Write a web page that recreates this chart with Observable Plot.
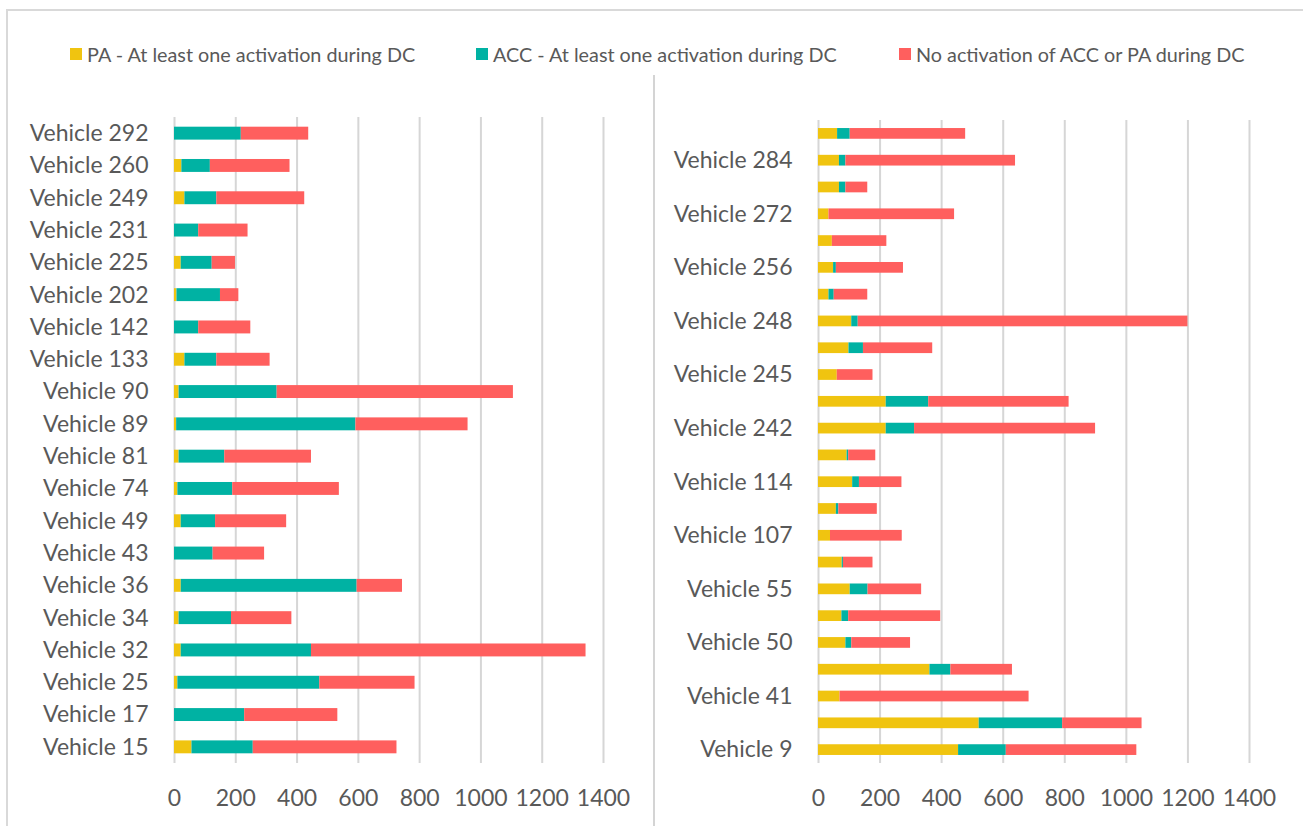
<!DOCTYPE html>
<html>
<head>
<meta charset="utf-8">
<script src="https://cdn.jsdelivr.net/npm/d3@7"></script>
<script src="https://cdn.jsdelivr.net/npm/@observablehq/plot@0.6"></script>
<style>
  html, body { margin: 0; padding: 0; background: #fff; }
  #wrap { position: relative; width: 1303px; height: 826px; overflow: hidden; font-family: Lato, "Open Sans", sans-serif; color: #595959; }
  #frame { position: absolute; left: 6px; top: 9px; right: -4px; bottom: -4px; border-top: 2px solid #d9d9d9; border-left: 2px solid #d9d9d9; }
  #divider { position: absolute; left: 653px; top: 75px; width: 2px; height: 760px; background: #d4d4d4; }
  .legend { position: absolute; top: 42px; height: 24px; display: flex; align-items: center; font-size: 19.8px; white-space: nowrap; }
  .legend .sw { width: 12px; height: 12px; margin-right: 5px; }
  #left, #right { position: absolute; top: 0; }
  #left { left: 0; }
  #right { left: 654px; }
</style>
</head>
<body>
<div id="wrap">
  <div id="frame"></div>
  <div id="divider"></div>
  <div id="legend"></div>
  <div id="left"></div>
  <div id="right"></div>
</div>
<script>
// ---- data ----
const seriesNames = ["PA - At least one activation during DC", "ACC - At least one activation during DC", "No activation of ACC or PA during DC"];
const seriesColors = ["#f0c410", "#00b2a3", "#ff5f5e"];

// left panel, top to bottom
const leftVehicles = ["Vehicle 292","Vehicle 260","Vehicle 249","Vehicle 231","Vehicle 225","Vehicle 202","Vehicle 142","Vehicle 133","Vehicle 90","Vehicle 89","Vehicle 81","Vehicle 74","Vehicle 49","Vehicle 43","Vehicle 36","Vehicle 34","Vehicle 32","Vehicle 25","Vehicle 17","Vehicle 15"];
const leftPA   = [0, 24, 34, 0, 22, 8, 0, 34, 15, 7, 15, 11, 22, 0, 22, 15, 22, 11, 0, 57];
const leftACC  = [218, 93, 104, 79, 101, 142, 79, 104, 320, 585, 149, 179, 112, 126, 574, 171, 425, 463, 229, 200];
const leftNone = [220, 260, 287, 161, 76, 60, 170, 174, 771, 366, 283, 348, 232, 168, 148, 197, 896, 311, 304, 469];

// right panel, top to bottom (every other category label is not shown in the original)
const rightLabels = ["", "Vehicle 284", "", "Vehicle 272", "", "Vehicle 256", "", "Vehicle 248", "", "Vehicle 245", "", "Vehicle 242", "", "Vehicle 114", "", "Vehicle 107", "", "Vehicle 55", "", "Vehicle 50", "", "Vehicle 41", "", "Vehicle 9"];
const rightPA   = [62, 68, 68, 34, 45, 49, 34, 108, 99, 61, 220, 220, 93, 111, 58, 39, 77, 103, 76, 89, 362, 70, 522, 455];
const rightACC  = [41, 21, 21, 0, 0, 9, 17, 21, 47, 0, 138, 92, 5, 22, 8, 0, 4, 58, 22, 19, 68, 0, 271, 155];
const rightNone = [375, 551, 71, 408, 177, 218, 109, 1071, 225, 116, 456, 588, 88, 138, 125, 233, 96, 174, 299, 191, 200, 614, 258, 424];

const xTicks = [0, 200, 400, 600, 800, 1000, 1200, 1400];

// ---- legend ----
const legendPos = [70, 476, 899];
const legend = document.getElementById("legend");
seriesNames.forEach((name, i) => {
  const d = document.createElement("div");
  d.className = "legend";
  d.style.left = legendPos[i] + "px";
  d.innerHTML = `<span class="sw" style="background:${seriesColors[i]}"></span><span>${name}</span>`;
  legend.appendChild(d);
});

function tidy(keys, pa, acc, none) {
  const rows = [];
  keys.forEach((k, i) => {
    rows.push({cat: k, series: seriesNames[0], value: pa[i]});
    rows.push({cat: k, series: seriesNames[1], value: acc[i]});
    rows.push({cat: k, series: seriesNames[2], value: none[i]});
  });
  return rows;
}

function panel({data, domain, tickFormat, width, marginLeft, marginRight, marginTop}) {
  return Plot.plot({
    width,
    height: 826,
    marginLeft,
    marginRight,
    marginTop,
    marginBottom: 63,
    style: {fontFamily: "Lato, 'Open Sans', sans-serif", fontSize: "23px", color: "#595959", background: "transparent", overflow: "visible"},
    x: {domain: [0, 1400]},
    y: {type: "band", domain, paddingInner: 0.6, paddingOuter: 0.3, align: 0.5, round: false},
    color: {domain: seriesNames, range: seriesColors},
    marks: [
      Plot.ruleX(xTicks, {stroke: "#d6d6d6", strokeWidth: 2, strokeOpacity: 1}),
      Plot.barX(data, Plot.stackX({x: "value", y: "cat", fill: "series", order: seriesNames})),
      Plot.axisX({ticks: xTicks, tickSize: 0, tickPadding: 26, fontSize: 23, fill: "#595959", label: null, tickFormat: d => String(d)}),
      Plot.axisY({tickSize: 0, tickPadding: 26, fontSize: 23, fill: "#595959", label: null, tickFormat})
    ]
  });
}

const leftData = tidy(leftVehicles, leftPA, leftACC, leftNone);
document.getElementById("left").appendChild(panel({
  data: leftData, domain: leftVehicles, tickFormat: d => d,
  width: 654, marginLeft: 174, marginRight: 51, marginTop: 117
}));

const rightIdx = d3.range(rightLabels.length);
const rightData = tidy(rightIdx, rightPA, rightACC, rightNone);
document.getElementById("right").appendChild(panel({
  data: rightData, domain: rightIdx, tickFormat: i => rightLabels[i],
  width: 649, marginLeft: 164, marginRight: 54, marginTop: 120
}));
</script>
</body>
</html>
